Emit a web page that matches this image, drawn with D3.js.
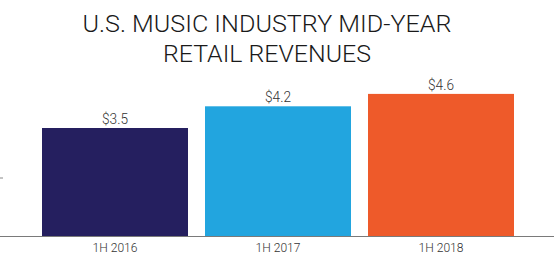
<!DOCTYPE html>
<html><head><meta charset="utf-8">
<script src="https://cdn.jsdelivr.net/npm/d3@7"></script>
<style>
html,body{margin:0;padding:0;background:#fff;}
svg{display:block;}
text{font-family:"Roboto","DejaVu Sans Condensed",sans-serif;}
</style></head>
<body><svg id="c" width="554" height="266"></svg>
<script>
const categories = ["1H 2016", "1H 2017", "1H 2018"];
const revenues = [3.5, 4.2, 4.6];
const valueLabels = ["$3.5", "$4.2", "$4.6"];
const colors = ["#251f5f", "#22a5df", "#ee5a2a"];
const titleLines = ["U.S. MUSIC INDUSTRY MID-YEAR", "RETAIL REVENUES"];

const svg = d3.select("#c");
const baseY = 236.5;
const pi = 17/163;
const x = d3.scaleBand().domain(categories).range([33.5, 522.5]).paddingInner(pi).paddingOuter(pi/2);
const y = d3.scaleLinear().domain([0, 5]).range([baseY, baseY - 5*31]);

// title
const tl = [{t:titleLines[0], y:32.3, w:369}, {t:titleLines[1], y:61.7, w:208}];
svg.selectAll("text.title").data(tl).join("text").attr("class","title")
  .attr("x", 267).attr("y", d=>d.y).attr("text-anchor","middle")
  .attr("font-size", 24).attr("font-weight", 300).attr("fill","#1a1a1a")
  .attr("textLength", d=>d.w).attr("lengthAdjust","spacingAndGlyphs")
  .text(d=>d.t);

// bars
svg.selectAll("rect.bar").data(categories).join("rect").attr("class","bar")
  .attr("x", d=>x(d)).attr("width", x.bandwidth())
  .attr("y", (d,i)=>y(revenues[i])).attr("height", (d,i)=>baseY - y(revenues[i]))
  .attr("fill", (d,i)=>colors[i]);

// baseline axis
const axis = d3.axisBottom(x).tickSize(0).tickPadding(7);
const g = svg.append("g").attr("transform", `translate(0,${baseY})`).call(axis);
g.select(".domain").remove();
g.append("line").attr("x1",0).attr("x2",554).attr("y1",0).attr("y2",0)
  .attr("stroke","#7a7a7a").attr("stroke-width",1.2);
g.selectAll(".tick text").attr("font-size", 12.5).attr("font-weight", 300).attr("fill","#333")
  .style("font-family","Roboto,sans-serif")
  .attr("textLength", 45).attr("lengthAdjust","spacingAndGlyphs");

// small left tick mark
svg.append("line").attr("x1",0).attr("x2",3).attr("y1",178).attr("y2",178).attr("stroke","#888");

// value labels
svg.selectAll("text.val").data(categories).join("text").attr("class","val")
  .attr("x", d=>x(d)+x.bandwidth()/2).attr("y",(d,i)=>y(revenues[i]) - 4)
  .attr("text-anchor","middle").attr("font-size",15).attr("font-weight", 300).attr("fill","#333")
  .attr("textLength", 26).attr("lengthAdjust","spacingAndGlyphs")
  .text((d,i)=>valueLabels[i]);
</script></body></html>
